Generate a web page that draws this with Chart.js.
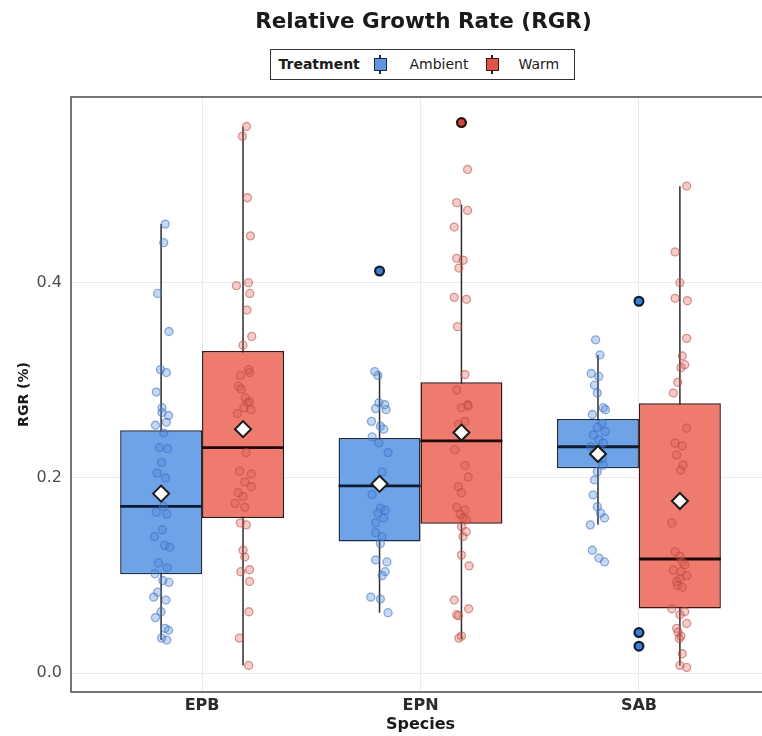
<!DOCTYPE html>
<html>
<head>
<meta charset="utf-8">
<title>Relative Growth Rate (RGR)</title>
<script src="https://cdn.jsdelivr.net/npm/chart.js@4.4.1/dist/chart.umd.min.js"></script>
<style>
  html, body { margin: 0; padding: 0; overflow: hidden; background: #ffffff; }
  #wrap { position: relative; width: 780px; height: 736px; }
  #chart { position: absolute; left: 0; top: 0; width: 780px; height: 736px; }
  #title {
    position: absolute; left: 0; top: 8px; width: 847px; text-align: center;
    font: bold 21.5px "DejaVu Sans", sans-serif; line-height: 26px; color: #1a1a1a;
  }
  #legend {
    position: absolute; left: 270px; top: 49px; width: 305px; height: 31px;
    box-sizing: border-box; border: 1.5px solid #333333; background: #ffffff;
    font-family: "DejaVu Sans", sans-serif; color: #1a1a1a;
  }
  #legend .txt { position: absolute; top: 0; line-height: 28px; font-size: 14px; white-space: nowrap; }
  #legend .head { font-weight: bold; }
  #legend .key { position: absolute; top: 7.5px; width: 13px; height: 13px; }
  #legend .key .stub { position: absolute; left: 5.75px; width: 1.5px; height: 3px; }
  #legend .key .stub.top { top: -3px; }
  #legend .key .stub.bot { bottom: -3px; }
  #legend .key .face { position: absolute; inset: 0; box-sizing: border-box; border: 1.5px solid; }
</style>
</head>
<body>
<div id="wrap">
  <canvas id="chart" width="780" height="736"></canvas>
  <div id="title">Relative Growth Rate (RGR)</div>
  <div id="legend">
    <span class="txt head" style="left:7.5px">Treatment</span>
    <span class="key" style="left:102.5px">
      <span class="stub top" style="background:#1b2a45"></span>
      <span class="face" style="background:#5d95e0;border-color:#1b2a45"></span>
      <span class="stub bot" style="background:#1b2a45"></span>
    </span>
    <span class="txt" style="left:138.5px">Ambient</span>
    <span class="key" style="left:214.5px">
      <span class="stub top" style="background:#3d1512"></span>
      <span class="face" style="background:#e0544a;border-color:#3d1512"></span>
      <span class="stub bot" style="background:#3d1512"></span>
    </span>
    <span class="txt" style="left:247.5px">Warm</span>
  </div>
</div>
<script>
// ---- data -------------------------------------------------------------
const species = ['EPB', 'EPN', 'SAB'];
const yTicks = [0.0, 0.2, 0.4];

// box statistics per species (EPB, EPN, SAB)
const ambientQ1     = [0.1015, 0.135, 0.210];
const ambientMedian = [0.171,  0.192, 0.232];
const ambientQ3     = [0.249,  0.241, 0.2605];
const ambientLow    = [0.034,  0.062, 0.152];
const ambientHigh   = [0.460,  0.308, 0.326];
const ambientMean   = [0.184,  0.194, 0.2246];

const warmQ1     = [0.159, 0.153, 0.0664];
const warmMedian = [0.231, 0.238, 0.117];
const warmQ3     = [0.330, 0.298, 0.2766];
const warmLow    = [0.008, 0.035, 0.008];
const warmHigh   = [0.560, 0.480, 0.4988];
const warmMean   = [0.250, 0.2465, 0.1764];

// outlying observations
const ambientOutliers = [[], [0.412], [0.381, 0.0417, 0.0277]];
const warmOutliers    = [[], [0.564], []];
// outliers of the SAB ambient group sit on the species centre line
const ambientOutlierShift = [0, 0, 0.1875];
const warmOutlierShift    = [0, 0, 0];

// individual observations (RGR) and their horizontal jitter
const epbAmbient = [0.460, 0.441, 0.389, 0.350, 0.311, 0.308, 0.288, 0.272, 0.267, 0.264, 0.257, 0.254, 0.246, 0.231, 0.230, 0.216, 0.205, 0.200, 0.185, 0.171, 0.165, 0.163, 0.147, 0.140, 0.131, 0.129, 0.113, 0.108, 0.102, 0.095, 0.093, 0.083, 0.078, 0.075, 0.063, 0.057, 0.046, 0.044, 0.036, 0.034];
const epbAmbientJitter = [0.019, 0.012, -0.016, 0.036, -0.003, 0.024, -0.022, 0.004, 0.004, 0.034, 0.024, -0.026, 0.012, -0.008, 0.030, 0.002, -0.018, 0.020, -0.004, 0.010, -0.022, 0.026, 0.006, -0.030, 0.016, 0.040, -0.012, 0.028, -0.028, 0.008, 0.036, -0.016, -0.034, 0.022, 0.000, -0.026, 0.018, 0.034, 0.002, 0.026];

const epbWarm = [0.560, 0.550, 0.487, 0.448, 0.400, 0.397, 0.389, 0.372, 0.345, 0.336, 0.311, 0.308, 0.305, 0.294, 0.291, 0.282, 0.278, 0.277, 0.272, 0.270, 0.266, 0.226, 0.207, 0.204, 0.196, 0.191, 0.185, 0.181, 0.174, 0.170, 0.154, 0.152, 0.126, 0.119, 0.106, 0.104, 0.094, 0.063, 0.036, 0.008];
const epbWarmJitter = [0.016, -0.003, 0.020, 0.034, 0.025, -0.030, 0.031, 0.018, 0.040, 0.000, 0.025, 0.030, -0.012, -0.020, -0.008, 0.010, 0.030, 0.020, 0.004, 0.036, -0.026, 0.014, -0.015, 0.038, 0.008, 0.038, -0.022, 0.000, -0.037, 0.008, -0.012, 0.015, 0.000, 0.008, 0.030, -0.010, 0.030, 0.027, -0.017, 0.026];

const epnAmbient = [0.309, 0.305, 0.277, 0.275, 0.271, 0.270, 0.258, 0.253, 0.250, 0.242, 0.236, 0.226, 0.206, 0.196, 0.183, 0.169, 0.167, 0.164, 0.159, 0.154, 0.144, 0.140, 0.133, 0.116, 0.114, 0.104, 0.100, 0.078, 0.076, 0.062];
const epnAmbientJitter = [-0.022, -0.007, -0.003, 0.024, -0.018, 0.030, -0.037, 0.004, 0.019, -0.034, -0.003, 0.039, 0.012, -0.011, -0.034, 0.004, 0.026, -0.007, 0.019, -0.018, -0.018, 0.012, 0.004, -0.018, 0.034, 0.026, 0.012, -0.040, 0.004, 0.039];

const epnWarm = [0.516, 0.482, 0.474, 0.457, 0.425, 0.423, 0.415, 0.385, 0.383, 0.355, 0.306, 0.290, 0.275, 0.274, 0.272, 0.258, 0.255, 0.245, 0.229, 0.213, 0.201, 0.191, 0.185, 0.170, 0.167, 0.163, 0.159, 0.157, 0.150, 0.145, 0.140, 0.121, 0.110, 0.075, 0.066, 0.060, 0.059, 0.038, 0.036];
const epnWarmJitter = [0.028, -0.022, 0.028, -0.033, -0.022, 0.008, -0.012, -0.033, 0.023, -0.018, 0.016, -0.022, 0.028, 0.031, 0.000, 0.016, -0.014, -0.006, -0.030, 0.016, 0.031, -0.014, 0.000, -0.022, 0.016, -0.006, 0.007, 0.022, 0.000, 0.022, 0.007, 0.000, 0.035, -0.033, 0.033, -0.022, -0.014, 0.000, -0.012];

const sabAmbient = [0.3415, 0.326, 0.307, 0.304, 0.295, 0.287, 0.272, 0.270, 0.265, 0.256, 0.252, 0.2475, 0.244, 0.239, 0.236, 0.232, 0.229, 0.2256, 0.220, 0.213, 0.2065, 0.198, 0.1826, 0.1706, 0.164, 0.159, 0.152, 0.126, 0.118, 0.114];
const sabAmbientJitter = [-0.011, 0.009, -0.031, 0.004, -0.016, -0.003, 0.024, 0.034, -0.026, 0.019, -0.003, 0.034, -0.021, 0.004, 0.024, -0.034, 0.012, -0.011, 0.019, 0.024, -0.003, -0.016, -0.022, -0.003, 0.012, 0.030, -0.035, -0.026, 0.004, 0.030];

const sabWarm = [0.499, 0.4315, 0.400, 0.384, 0.3815, 0.343, 0.325, 0.316, 0.313, 0.298, 0.287, 0.251, 0.2356, 0.233, 0.2236, 0.2133, 0.208, 0.154, 0.1244, 0.120, 0.114, 0.111, 0.1056, 0.104, 0.100, 0.097, 0.094, 0.090, 0.088, 0.066, 0.063, 0.060, 0.051, 0.046, 0.042, 0.038, 0.0356, 0.020, 0.008, 0.006];
const sabWarmJitter = [0.031, -0.022, 0.000, -0.022, 0.034, 0.031, 0.011, 0.022, 0.005, -0.010, -0.030, 0.031, -0.022, 0.011, -0.015, 0.015, 0.003, -0.037, -0.022, 0.000, 0.011, 0.022, -0.030, 0.005, 0.031, 0.000, -0.015, -0.011, 0.011, -0.037, 0.022, 0.000, 0.031, -0.015, -0.008, 0.005, -0.003, 0.011, 0.000, 0.031];

// ---- layout helpers -----------------------------------------------------
const DODGE = 0.1875;        // half of the dodged group width (0.75 / 4)
const BOX_HALF = 0.1875;     // half of one box width
const FONT = '"DejaVu Sans", sans-serif';

const groups = {
  ambient: {
    shift: -DODGE, q1: ambientQ1, med: ambientMedian, q3: ambientQ3, lo: ambientLow, hi: ambientHigh,
    mean: ambientMean, out: ambientOutliers, outShift: ambientOutlierShift,
    pts: [epbAmbient, epnAmbient, sabAmbient], jit: [epbAmbientJitter, epnAmbientJitter, sabAmbientJitter]
  },
  warm: {
    shift: DODGE, q1: warmQ1, med: warmMedian, q3: warmQ3, lo: warmLow, hi: warmHigh,
    mean: warmMean, out: warmOutliers, outShift: warmOutlierShift,
    pts: [epbWarm, epnWarm, sabWarm], jit: [epbWarmJitter, epnWarmJitter, sabWarmJitter]
  }
};

const boxData = g => species.map((_, i) => ({ x: i, y: [g.q1[i], g.q3[i]] }));
const whiskerData = g => species.flatMap((_, i) => [
  { x: i + g.shift, y: g.lo[i] }, { x: i + g.shift, y: g.hi[i] }, { x: i + g.shift, y: null }
]);
const medianData = g => species.flatMap((_, i) => [
  { x: i + g.shift - BOX_HALF, y: g.med[i] }, { x: i + g.shift + BOX_HALF, y: g.med[i] }, { x: i, y: null }
]);
const meanData = g => species.map((_, i) => ({ x: i + g.shift, y: g.mean[i] }));
const outlierData = g => species.flatMap((_, i) => g.out[i].map(v => ({ x: i + g.shift + g.outShift[i], y: v })));
const pointData = g => species.flatMap((_, i) => g.pts[i].map((v, k) => ({ x: i + g.shift + (g.jit[i][k] || 0), y: v })));

const palette = {
  ambient: { box: '#6ea3e8', edge: '#1b2a45', ptFill: 'rgba(74,134,214,0.32)', ptEdge: 'rgba(58,110,190,0.55)', outFill: '#3f7fd0', outEdge: '#0f1c30' },
  warm:    { box: '#ee7b6d', edge: '#3d1512', ptFill: 'rgba(214,88,80,0.30)',  ptEdge: 'rgba(190,72,66,0.55)',  outFill: '#d4483e', outEdge: '#2a0c0a' }
};

const datasets = [];
['ambient', 'warm'].forEach(key => {
  const g = groups[key], c = palette[key];
  const label = key === 'ambient' ? 'Ambient' : 'Warm';
  datasets.push({
    type: 'bar', label, data: boxData(g), order: 4,
    backgroundColor: c.box, borderColor: c.edge, borderWidth: 1.5, borderSkipped: false,
    categoryPercentage: 0.75, barPercentage: 1.0
  });
  datasets.push({
    type: 'line', label: label + ' whisker', data: whiskerData(g), order: 5,
    borderColor: '#2d2d2d', borderWidth: 1.5, pointRadius: 0, fill: false, tension: 0
  });
  datasets.push({
    type: 'line', label: label + ' median', data: medianData(g), order: 3,
    borderColor: key === 'ambient' ? '#0f1a2e' : '#1f0908', borderWidth: 2.8, borderCapStyle: 'butt',
    pointRadius: 0, fill: false, tension: 0
  });
  datasets.push({
    type: 'scatter', label: label + ' observations', data: pointData(g), order: 2,
    backgroundColor: c.ptFill, borderColor: c.ptEdge, borderWidth: 1.3, pointRadius: 4
  });
  datasets.push({
    type: 'scatter', label: label + ' outliers', data: outlierData(g), order: 1,
    backgroundColor: c.outFill, borderColor: c.outEdge, borderWidth: 2.2, pointRadius: 4.4
  });
  datasets.push({
    type: 'scatter', label: label + ' mean', data: meanData(g), order: 0,
    pointStyle: 'rectRot', pointRadius: 8, backgroundColor: '#ffffff', borderColor: '#1a1a1a', borderWidth: 2
  });
});

// frame around the plotting panel
const panelFrame = {
  id: 'panelFrame',
  afterDatasetsDraw(chart) {
    const { ctx, chartArea: a } = chart;
    ctx.save();
    ctx.strokeStyle = '#4a4a4a';
    ctx.lineWidth = 1.5;
    ctx.strokeRect(a.left, a.top, a.right - a.left, a.bottom - a.top);
    ctx.restore();
  }
};

new Chart(document.getElementById('chart'), {
  type: 'scatter',
  data: { datasets },
  plugins: [panelFrame],
  options: {
    responsive: false,
    animation: false,
    events: [],
    layout: { padding: { top: 97, left: 10, right: 6, bottom: 1 } },
    plugins: { legend: { display: false }, title: { display: false }, tooltip: { enabled: false } },
    scales: {
      x: {
        type: 'linear', min: -0.6, max: 2.6, offset: false,
        afterBuildTicks: ax => { ax.ticks = species.map((_, i) => ({ value: i })); },
        afterFit: ax => { ax.height = 43; },
        ticks: {
          callback: (v, i) => species[i], autoSkip: false, maxRotation: 0, padding: 4,
          color: '#2b2b2b', font: { family: FONT, size: 16, weight: 'bold' }
        },
        grid: { color: '#ebebeb', lineWidth: 1, drawTicks: false, offset: false },
        border: { display: false },
        title: {
          display: true, text: 'Species', color: '#1a1a1a', padding: { top: 0, bottom: 1 },
          font: { family: FONT, size: 16, weight: 'bold' }
        }
      },
      y: {
        type: 'linear', min: -0.0192, max: 0.5902,
        afterBuildTicks: ax => { ax.ticks = yTicks.map(v => ({ value: v })); },
        afterFit: ax => { ax.width = 61; },
        ticks: {
          callback: v => v.toFixed(1), padding: 9, color: '#4d4d4d',
          font: { family: FONT, size: 16 }
        },
        grid: { color: '#ebebeb', lineWidth: 1, drawTicks: false },
        border: { display: false },
        title: {
          display: true, text: 'RGR (%)', color: '#1a1a1a', padding: { top: 6, bottom: 4 },
          font: { family: FONT, size: 14, weight: 'bold' }
        }
      }
    }
  }
});
</script>
</body>
</html>
